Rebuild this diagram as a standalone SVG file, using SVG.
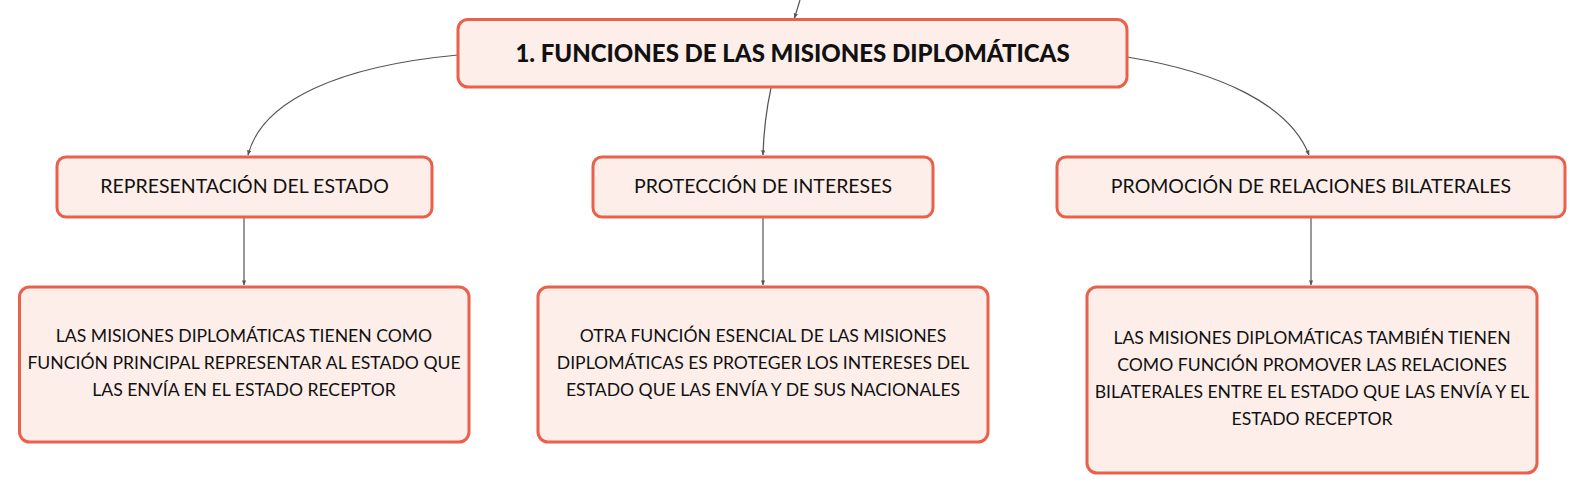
<svg xmlns="http://www.w3.org/2000/svg" width="1586" height="494" viewBox="0 0 1586 494">
<defs>
<style>
.box{fill:#fdeee9;stroke:#e9604b;stroke-width:3}
.t{font-family:Lato,"Noto Sans",sans-serif;fill:#111;text-anchor:middle}
.root{font-size:24px;font-weight:900}
.sub{font-size:19.5px}
.leaf{font-size:17.6px}
.c{fill:none;stroke:#555;stroke-width:1.2}
</style>
<marker id="a" viewBox="0 0 6 6" refX="5.5" refY="3" markerWidth="5" markerHeight="5" orient="auto" markerUnits="userSpaceOnUse">
<path d="M0,0.5 L6,3 L0,5.5 Z" fill="#555"/>
</marker>
</defs>
<rect width="1586" height="494" fill="#fff"/>
<g id="connectors">
<path class="c" d="M800,0 L794.5,18" marker-end="url(#a)"/>
<path class="c" d="M458,55 C340,66 262,100 248,155" marker-end="url(#a)"/>
<path class="c" d="M771,88 Q764,120 763,155" marker-end="url(#a)"/>
<path class="c" d="M1127,57 C1220,72 1290,105 1309,155" marker-end="url(#a)"/>
<path class="c" d="M244,218 L244,285" marker-end="url(#a)"/>
<path class="c" d="M763,218 L763,285" marker-end="url(#a)"/>
<path class="c" d="M1311,218 L1311,285" marker-end="url(#a)"/>
</g>
<g id="root">
<rect class="box" x="458" y="19.5" width="669" height="67.5" rx="10"/>
<text class="t root" x="792.5" y="62">1. FUNCIONES DE LAS MISIONES DIPLOMÁTICAS</text>
</g>
<g id="n1">
<rect class="box" x="57" y="157" width="375" height="60" rx="9"/>
<text class="t sub" x="244.5" y="193">REPRESENTACIÓN DEL ESTADO</text>
</g>
<g id="n2">
<rect class="box" x="593" y="157" width="340" height="60" rx="9"/>
<text class="t sub" x="763" y="193">PROTECCIÓN DE INTERESES</text>
</g>
<g id="n3">
<rect class="box" x="1057" y="157" width="508" height="60" rx="9"/>
<text class="t sub" x="1311" y="193">PROMOCIÓN DE RELACIONES BILATERALES</text>
</g>
<g id="l1">
<rect class="box" x="19.5" y="287" width="449.5" height="155" rx="10"/>
<text class="t leaf" x="244" y="342">LAS MISIONES DIPLOMÁTICAS TIENEN COMO</text>
<text class="t leaf" x="244" y="369">FUNCIÓN PRINCIPAL REPRESENTAR AL ESTADO QUE</text>
<text class="t leaf" x="244" y="396">LAS ENVÍA EN EL ESTADO RECEPTOR</text>
</g>
<g id="l2">
<rect class="box" x="538" y="287" width="450" height="155" rx="10"/>
<text class="t leaf" x="763" y="342">OTRA FUNCIÓN ESENCIAL DE LAS MISIONES</text>
<text class="t leaf" x="763" y="369">DIPLOMÁTICAS ES PROTEGER LOS INTERESES DEL</text>
<text class="t leaf" x="763" y="396">ESTADO QUE LAS ENVÍA Y DE SUS NACIONALES</text>
</g>
<g id="l3">
<rect class="box" x="1087" y="287" width="450" height="186" rx="10"/>
<text class="t leaf" x="1312" y="344">LAS MISIONES DIPLOMÁTICAS TAMBIÉN TIENEN</text>
<text class="t leaf" x="1312" y="371">COMO FUNCIÓN PROMOVER LAS RELACIONES</text>
<text class="t leaf" x="1312" y="398">BILATERALES ENTRE EL ESTADO QUE LAS ENVÍA Y EL</text>
<text class="t leaf" x="1312" y="425">ESTADO RECEPTOR</text>
</g>
</svg>
